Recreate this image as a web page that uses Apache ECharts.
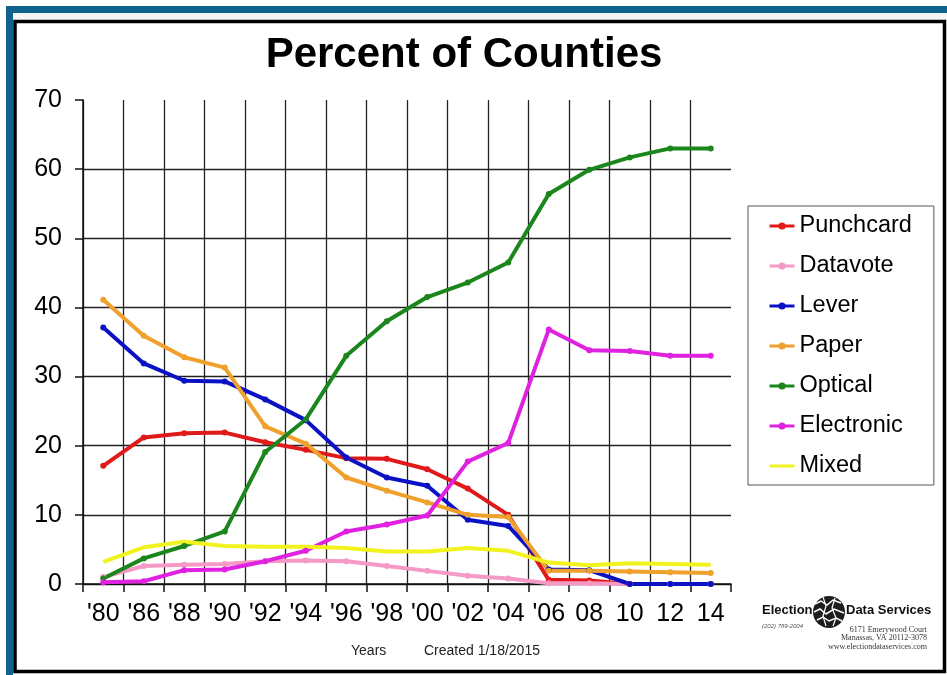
<!DOCTYPE html>
<html>
<head>
<meta charset="utf-8">
<title>Percent of Counties</title>
<script src="https://cdn.jsdelivr.net/npm/echarts@6/dist/echarts.min.js"></script>
<style>
  html, body { margin: 0; padding: 0; background: #fff; }
  #chart { width: 947px; height: 675px; }
</style>
</head>
<body>
<div id="chart"></div>
<script>
// years along the bottom
var years = ["'80", "'86", "'88", "'90", "'92", "'94", "'96", "'98", "'00", "'02", "'04", "'06", "08", "10", "12", "14"];

// percent of counties by equipment type
var punchcard = [17.1, 21.2, 21.8, 21.9, 20.5, 19.4, 18.2, 18.1, 16.6, 13.8, 10.0, 0.6, 0.5, 0, 0, 0];
var datavote = [1.0, 2.6, 2.8, 2.9, 3.3, 3.4, 3.3, 2.6, 1.9, 1.2, 0.8, 0.1, 0.1, 0, 0, 0];
var lever = [37.1, 31.9, 29.4, 29.3, 26.7, 23.7, 18.3, 15.4, 14.2, 9.3, 8.4, 2.1, 2.0, 0, 0, 0];
var paper = [41.1, 35.9, 32.8, 31.3, 22.8, 20.3, 15.4, 13.5, 11.8, 10.0, 9.7, 1.9, 1.9, 1.8, 1.7, 1.6];
var optical = [0.8, 3.7, 5.5, 7.6, 19.1, 23.8, 33.0, 38.0, 41.5, 43.6, 46.5, 56.4, 59.9, 61.7, 63.0, 63.0];
var electronic = [0.25, 0.4, 2.0, 2.1, 3.3, 4.8, 7.6, 8.6, 9.9, 17.7, 20.4, 36.8, 33.8, 33.7, 33.0, 33.0];
var mixed = [3.2, 5.3, 6.1, 5.5, 5.4, 5.4, 5.2, 4.7, 4.7, 5.2, 4.8, 3.1, 2.7, 3.0, 2.9, 2.8];

var yTicks = [0, 10, 20, 30, 40, 50, 60, 70];

var font = "'Liberation Sans', Arial, sans-serif";
var colors = ["#e01a1a", "#f59ac6", "#0b12c4", "#f0a02c", "#1b861b", "#e021e0", "#f2f21e"];

var myChart = echarts.init(document.getElementById("chart"));

function mkLine(name, data, showDots) {
  return {
    name: name,
    type: "line",
    data: data,
    symbol: showDots ? "circle" : "none",
    symbolSize: 6,
    lineStyle: { width: 4 },
    emphasis: { disabled: true }
  };
}

// little globe drawn next to the company name
var globe = [
  { type: "circle", shape: { cx: 829, cy: 612, r: 16 }, style: { fill: "#1e1e1e" } },
  { type: "polyline", shape: { points: [[815, 604], [821, 601], [827, 605], [833, 600], [841, 603]] }, style: { stroke: "#fff", lineWidth: 1.5, fill: null } },
  { type: "polyline", shape: { points: [[814, 612], [820, 609], [826, 614], [834, 609], [844, 613]] }, style: { stroke: "#fff", lineWidth: 1.5, fill: null } },
  { type: "polyline", shape: { points: [[817, 620], [823, 617], [829, 621], [836, 618], [842, 621]] }, style: { stroke: "#fff", lineWidth: 1.5, fill: null } },
  { type: "polyline", shape: { points: [[823, 597], [826, 606], [823, 616], [826, 626]] }, style: { stroke: "#fff", lineWidth: 1.2, fill: null } },
  { type: "polyline", shape: { points: [[835, 598], [832, 608], [836, 618], [833, 626]] }, style: { stroke: "#fff", lineWidth: 1.2, fill: null } }
];

const option = {
  color: colors,
  animation: false,
  backgroundColor: "#fff",
  title: {
    text: "Percent of Counties",
    left: 459,
    textAlign: "center",
    top: 29,
    textStyle: { fontFamily: font, fontSize: 42, fontWeight: "bold", color: "#000" }
  },
  legend: {
    orient: "vertical",
    left: 748,
    top: 206,
    padding: [8, 22, 7, 20],
    borderColor: "#555",
    borderWidth: 1,
    itemWidth: 25,
    itemHeight: 9,
    itemGap: 16,
    lineStyle: { width: 3 },
    textStyle: { fontFamily: font, fontSize: 23.5, color: "#000" },
    data: ["Punchcard", "Datavote", "Lever", "Paper", "Optical", "Electronic",
      { name: "Mixed", itemStyle: { opacity: 0 } }]
  },
  grid: { left: 83, right: 216, top: 100, bottom: 91 },
  xAxis: {
    type: "category",
    data: years,
    boundaryGap: true,
    axisLine: { lineStyle: { color: "#111", width: 1.5 } },
    axisTick: { show: true, length: 8, lineStyle: { color: "#111", width: 1.5 } },
    axisLabel: { fontFamily: font, fontSize: 25, color: "#000", margin: 18, interval: 0 },
    splitLine: { show: true, showMaxLine: false, lineStyle: { color: "#222", width: 1.3 } }
  },
  yAxis: {
    type: "value",
    min: 0,
    max: 70,
    interval: 10,
    axisLine: { show: true, lineStyle: { color: "#111", width: 1.5 } },
    axisTick: { show: true, length: 8, lineStyle: { color: "#111", width: 1.5 } },
    axisLabel: {
      fontFamily: font, fontSize: 25, color: "#000", margin: 21,
      formatter: function (v) { return yTicks.indexOf(v) >= 0 ? String(v) : ""; }
    },
    splitLine: { show: true, showMaxLine: false, lineStyle: { color: "#222", width: 1.3 } }
  },
  graphic: [
    // blue frame of the screen capture
    { type: "rect", shape: { x: 6, y: 6, width: 947, height: 7 }, style: { fill: "#12628e" }, z: 100 },
    { type: "rect", shape: { x: 6, y: 6, width: 7, height: 675 }, style: { fill: "#12628e" }, z: 100 },
    { type: "rect", shape: { x: 13, y: 13, width: 934, height: 7 }, style: { fill: "#f6f6f6" }, z: 99 },
    // black chart border
    { type: "rect", shape: { x: 15, y: 21.5, width: 929.5, height: 650 }, style: { fill: null, stroke: "#000", lineWidth: 3.5 }, z: 100 },
    { type: "text", left: 351, top: 644, style: { text: "Years", font: "14px " + font, fill: "#222" } },
    { type: "text", left: 424, top: 644, style: { text: "Created 1/18/2015", font: "14px " + font, fill: "#222" } },
    // Election Data Services logo
    { type: "text", left: 762, top: 604, style: { text: "Election", font: "bold 13px " + font, fill: "#111" } },
    { type: "text", left: 846, top: 604, style: { text: "Data Services", font: "bold 13px " + font, fill: "#111" } },
    { type: "text", left: 762, top: 623, style: { text: "(202) 789-2004", font: "italic 6px " + font, fill: "#555" } },
    { type: "text", right: 20, top: 626, style: { text: "6171 Emerywood Court", font: "8px 'Liberation Serif', serif", fill: "#333", align: "right" } },
    { type: "text", right: 20, top: 634, style: { text: "Manassas, VA 20112-3078", font: "8px 'Liberation Serif', serif", fill: "#333", align: "right" } },
    { type: "text", right: 20, top: 643, style: { text: "www.electiondataservices.com", font: "8px 'Liberation Serif', serif", fill: "#333", align: "right" } }
  ].concat(globe),
  series: [
    mkLine("Punchcard", punchcard, true),
    mkLine("Datavote", datavote, true),
    mkLine("Lever", lever, true),
    mkLine("Paper", paper, true),
    mkLine("Optical", optical, true),
    mkLine("Electronic", electronic, true),
    mkLine("Mixed", mixed, false)
  ]
};

myChart.setOption(option);
</script>
</body>
</html>
